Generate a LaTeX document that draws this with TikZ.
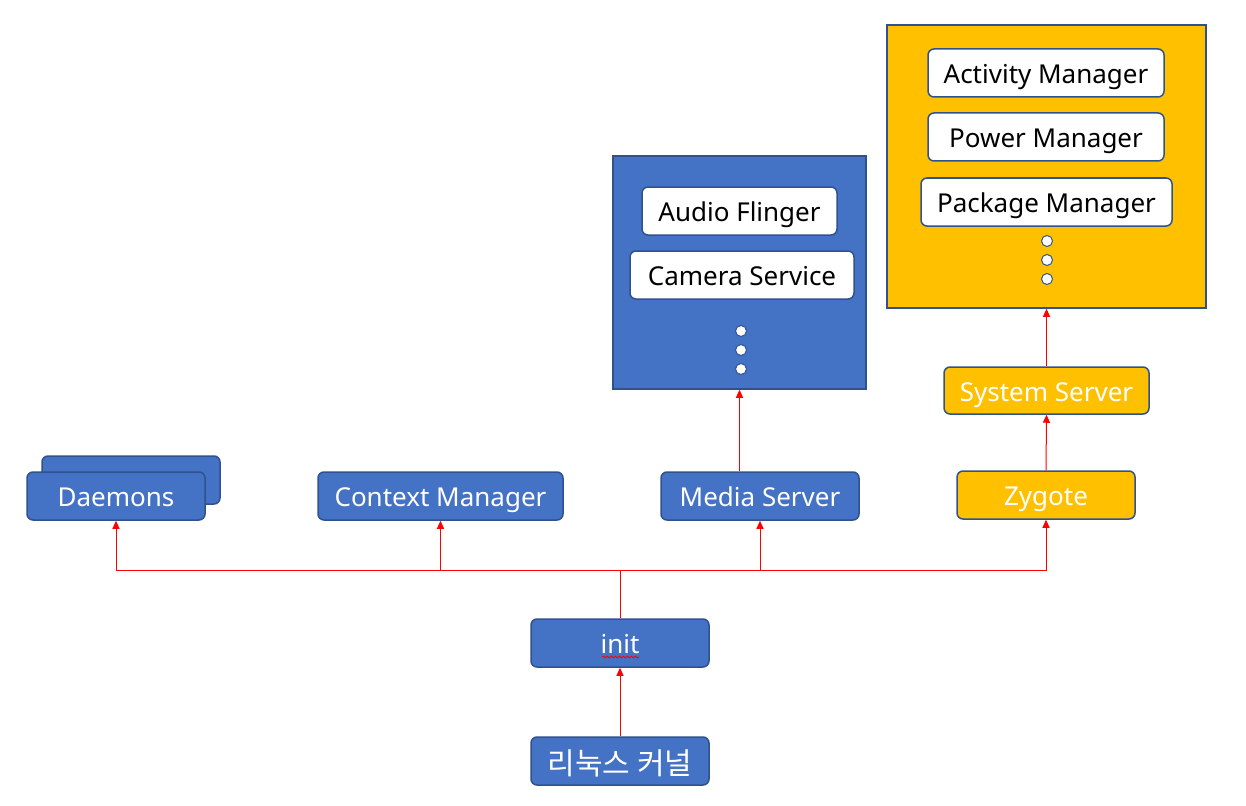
\documentclass[tikz,border=0pt]{standalone}
\usepackage{fontspec}
\setmainfont{Noto Sans}
\newfontfamily\kr{Noto Sans CJK KR}
\usetikzlibrary{arrows.meta,decorations.pathmorphing}
\definecolor{obl}{HTML}{4472C4}
\definecolor{oedge}{HTML}{2F528F}
\definecolor{oyel}{HTML}{FFC000}
\definecolor{ored}{HTML}{FF0000}
\tikzset{
  box/.style={draw=oedge, line width=1.5pt, rounded corners=6pt, minimum height=48pt, inner sep=0pt,
    font=\fontsize{26}{30}\selectfont, text height=21pt, text depth=0pt},
  bluebox/.style={box, fill=obl, text=white},
  yelbox/.style={box, fill=oyel, text=white},
  whitebox/.style={box, fill=white, text=black},
  panel/.style={draw=oedge, line width=1.5pt, inner sep=0pt},
  dot/.style={circle, draw=oedge, line width=1pt, fill=white, minimum size=11pt, inner sep=0pt},
  conn/.style={draw=ored, line width=1pt, -{Triangle[length=8pt,width=7pt]}},
  link/.style={draw=ored, line width=1pt},
}
\begin{document}
\begin{tikzpicture}[x=1pt,y=-1pt]
\useasboundingbox (0,0) rectangle (1246,805);
% Daemons (stacked)
\node[bluebox, minimum width=178pt] (daemonsback) at (131,480) {};
\node[bluebox, minimum width=178pt] (daemons) at (116,496) {Daemons};
\node[bluebox, minimum width=245pt] (context) at (440.5,496) {Context Manager};
\node[bluebox, minimum width=198pt] (media) at (760,496) {Media Server};
\node[yelbox, minimum width=178pt] (zygote) at (1046,495) {Zygote};
\node[yelbox, minimum width=205pt, minimum height=47pt] (system) at (1046.5,390.5) {System Server};
% media panel
\node[panel, fill=obl, minimum width=253pt, minimum height=233pt] (mediapanel) at (739.5,272.5) {};
\node[whitebox, minimum width=195pt] (audio) at (739.5,211) {Audio Flinger};
\node[whitebox, minimum width=224pt] (camera) at (742,275) {Camera Service};
\node[dot] (md1) at (741,331) {};
\node[dot] (md2) at (741,350) {};
\node[dot] (md3) at (741,369) {};
% system panel
\node[panel, fill=oyel, minimum width=319pt, minimum height=283pt] (syspanel) at (1046.5,166.5) {};
\node[whitebox, minimum width=236pt] (activity) at (1046,73) {Activity Manager};
\node[whitebox, minimum width=236pt] (power) at (1046,137) {Power Manager};
\node[whitebox, minimum width=251pt] (package) at (1046.5,202) {Package Manager};
\node[dot] (sd1) at (1047,241) {};
\node[dot] (sd2) at (1047,260) {};
\node[dot] (sd3) at (1047,279) {};
% init & kernel
\node[bluebox, minimum width=178pt] (init) at (620,643) {init};
\node[bluebox, minimum width=178pt, font=\fontsize{30}{34}\selectfont\kr, text height=26pt] (kernel) at (620,761) {리눅스 커널};
\draw[ored, line width=0.8pt, decorate, decoration={snake, amplitude=0.9pt, segment length=4pt}]
  (602,657) -- (639,657);
% connectors
\coordinate (bus) at (620,570);
\draw[conn] (kernel.north) -- (init.south);
\draw[link] (init.north) -- (bus);
\draw[conn] (bus) -| (daemons.south);
\draw[conn] (bus) -| (context.south);
\draw[conn] (bus) -| (media.south);
\draw[conn] (bus) -| (zygote.south);
\draw[conn] (mediapanel.south |- media.north) -- (mediapanel.south);
\draw[conn] (zygote.north) -- (system.south);
\draw[conn] (system.north) -- (syspanel.south);
\end{tikzpicture}
\end{document}
